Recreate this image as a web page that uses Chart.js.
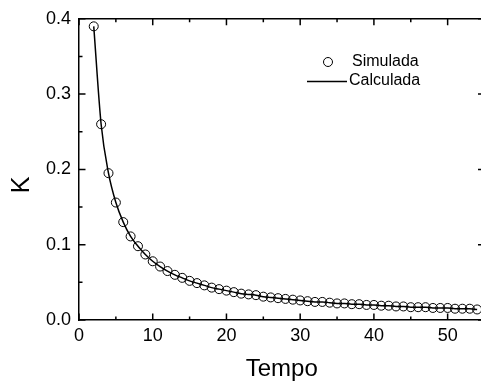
<!DOCTYPE html>
<html>
<head>
<meta charset="utf-8">
<script src="https://cdn.jsdelivr.net/npm/chart.js@4/dist/chart.umd.min.js"></script>
<style>
html,body{margin:0;padding:0;background:#fff;overflow:hidden;width:481px;height:385px;}
#wrap{width:490px;height:385px;}
</style>
</head>
<body>
<div id="wrap"><canvas id="c" width="490" height="385"></canvas></div>
<script>
// Data
const tempo = [2,3,4,5,6,7,8,9,10,11,12,13,14,15,16,17,18,19,20,21,22,23,24,25,26,27,28,29,30,31,32,33,34,35,36,37,38,39,40,41,42,43,44,45,46,47,48,49,50,51,52,53,54];
const simulada = [0.390,0.260,0.195,0.156,0.130,0.111,0.098,0.087,0.078,0.071,0.065,0.060,0.056,0.052,0.049,0.046,0.043,0.041,0.039,0.037,0.035,0.034,0.033,0.031,0.030,0.029,0.028,0.027,0.026,0.025,0.024,0.024,0.023,0.022,0.022,0.021,0.021,0.020,0.020,0.019,0.019,0.018,0.018,0.017,0.017,0.017,0.016,0.016,0.016,0.015,0.015,0.015,0.014];
const calculada = [0.390,0.260,0.195,0.156,0.130,0.111,0.098,0.087,0.078,0.071,0.065,0.060,0.056,0.052,0.049,0.046,0.043,0.041,0.039,0.037,0.035,0.034,0.033,0.031,0.030,0.029,0.028,0.027,0.026,0.025,0.024,0.024,0.023,0.022,0.022,0.021,0.021,0.020,0.020,0.019,0.019,0.018,0.018,0.017,0.017,0.017,0.016,0.016,0.016,0.015,0.015,0.015,0.014];
const xTicks = [0,10,20,30,40,50];
const xMinor = [5,15,25,35,45,55];
const yTicks = [0.0,0.1,0.2,0.3,0.4];
const yMinor = [0.05,0.15,0.25,0.35];
const seriesNames = ['Simulada','Calculada'];
const xTitle = 'Tempo';
const yTitle = 'K';

const FONT = '"Liberation Sans", Arial, sans-serif';

const framePlugin = {
  id: 'frame',
  afterDraw(chart) {
    const ctx = chart.ctx;
    const a = chart.chartArea;
    const xs = chart.scales.x, ys = chart.scales.y;
    ctx.save();
    ctx.strokeStyle = '#000';
    ctx.lineWidth = 1.5;
    ctx.beginPath();
    ctx.moveTo(a.left, a.top); ctx.lineTo(a.right, a.top); ctx.lineTo(a.right, a.bottom);
    ctx.stroke();
    const major = 6.5, minor = 3.5;
    ctx.beginPath();
    xTicks.concat(xMinor).forEach(v => {
      const L = xTicks.includes(v) ? major : minor;
      const px = xs.getPixelForValue(v);
      ctx.moveTo(px, a.bottom); ctx.lineTo(px, a.bottom - L);
      ctx.moveTo(px, a.top); ctx.lineTo(px, a.top + L);
    });
    yTicks.concat(yMinor).forEach(v => {
      const L = yTicks.includes(v) ? major : minor;
      const py = ys.getPixelForValue(v);
      ctx.moveTo(a.left, py); ctx.lineTo(a.left + L, py);
      ctx.moveTo(a.right, py); ctx.lineTo(a.right - L, py);
    });
    ctx.stroke();

    // legend
    ctx.fillStyle = '#000';
    ctx.font = '16px ' + FONT;
    ctx.textBaseline = 'middle';
    ctx.textAlign = 'left';
    ctx.lineWidth = 1;
    ctx.beginPath();
    ctx.arc(328, 62, 4.5, 0, Math.PI * 2);
    ctx.stroke();
    ctx.fillText(seriesNames[0], 352, 62);
    ctx.lineWidth = 1.5;
    ctx.beginPath();
    ctx.moveTo(307, 81.5); ctx.lineTo(347, 81.5);
    ctx.stroke();
    ctx.fillText(seriesNames[1], 349, 81);

    // y title
    ctx.font = '25px ' + FONT;
    ctx.translate(22, 185);
    ctx.rotate(-Math.PI / 2);
    ctx.textAlign = 'center';
    ctx.fillText(yTitle, 0, 0);
    ctx.restore();
  }
};

new Chart(document.getElementById('c'), {
  type: 'scatter',
  data: {
    datasets: [
      {
        label: seriesNames[0],
        data: tempo.map((t, i) => ({x: t, y: simulada[i]})),
        showLine: false,
        pointStyle: 'circle',
        pointRadius: 4.5,
        pointBorderWidth: 1,
        borderColor: '#000',
        backgroundColor: 'rgba(0,0,0,0)',
        order: 1
      },
      {
        label: seriesNames[1],
        data: tempo.map((t, i) => ({x: t, y: calculada[i]})),
        showLine: true,
        pointRadius: 0,
        borderColor: '#000',
        borderWidth: 1.5,
        cubicInterpolationMode: 'monotone',
        order: 2
      }
    ]
  },
  options: {
    responsive: false,
    animation: false,
    devicePixelRatio: 1,
    layout: {padding: {top: 18.5, right: 4.4, left: 0, bottom: 0}},
    plugins: {legend: {display: false}, tooltip: {enabled: false}},
    scales: {
      x: {
        type: 'linear', position: 'bottom', min: 0, max: 55,
        afterFit(s) { s.height = 65; },
        afterBuildTicks(s) { s.ticks = xTicks.map(v => ({value: v})); },
        grid: {display: false, drawTicks: false},
        border: {display: true, color: '#000', width: 1.5},
        ticks: {color: '#000', font: {family: FONT, size: 18}, padding: 5, maxRotation: 0,
                callback: v => String(v)},
        title: {display: true, text: xTitle, color: '#000', font: {family: FONT, size: 24}, padding: {top: 0, bottom: 1}}
      },
      y: {
        type: 'linear', position: 'left', min: 0, max: 0.4,
        afterFit(s) { s.width = 79; },
        afterBuildTicks(s) { s.ticks = yTicks.map(v => ({value: v})); },
        grid: {display: false, drawTicks: false},
        border: {display: true, color: '#000', width: 1.5},
        ticks: {color: '#000', font: {family: FONT, size: 18}, padding: 8,
                callback: v => Number(v).toFixed(1)}
      }
    }
  },
  plugins: [framePlugin]
});
</script>
</body>
</html>
